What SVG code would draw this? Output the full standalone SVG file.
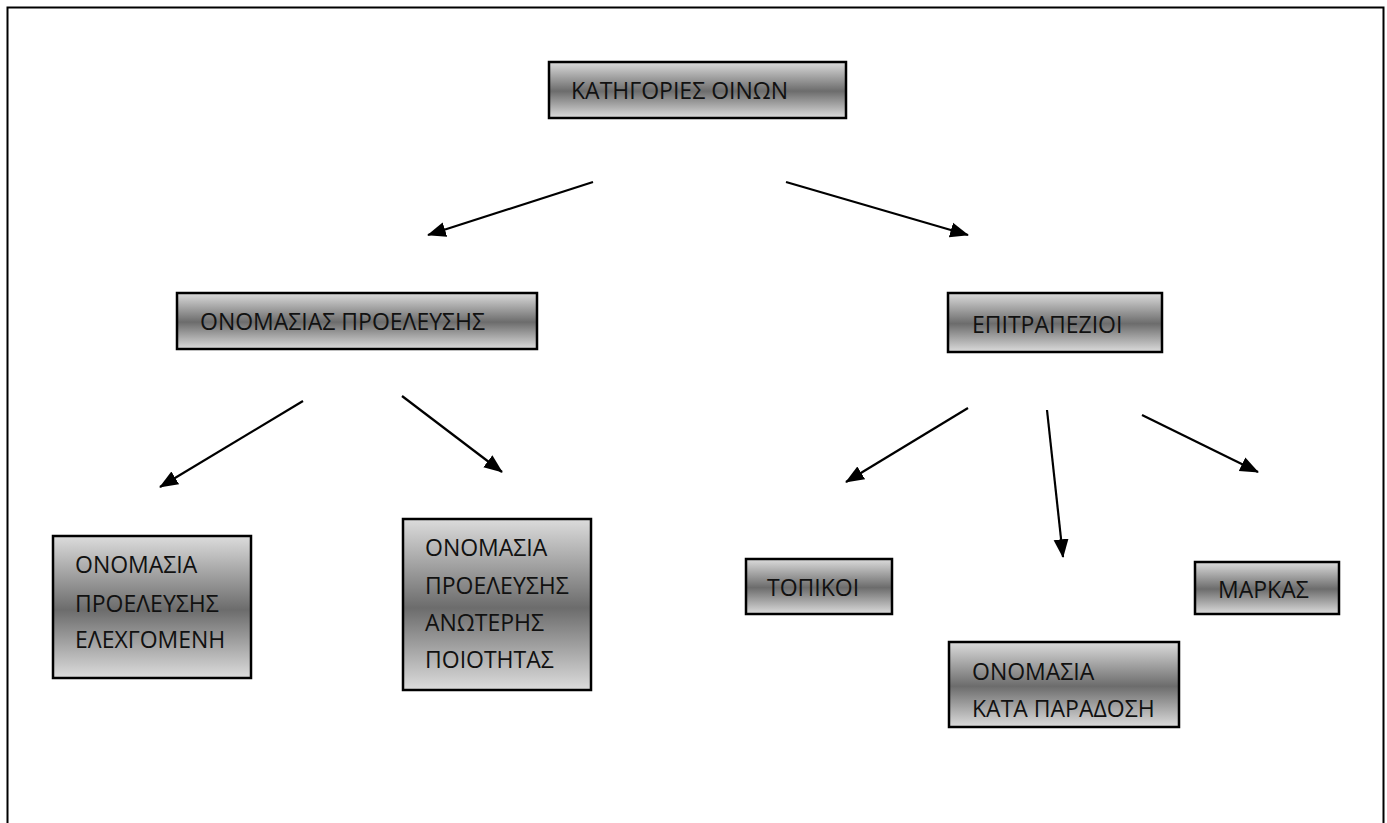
<svg xmlns="http://www.w3.org/2000/svg" width="1387" height="823" viewBox="0 0 1387 823">
<defs>
<linearGradient id="metal" x1="0" y1="0" x2="0" y2="1">
<stop offset="0" stop-color="#dcdcdc"/>
<stop offset="0.52" stop-color="#6c6c6c"/>
<stop offset="1" stop-color="#dcdcdc"/>
</linearGradient>
<marker id="arr" viewBox="0 0 10 8" refX="9.5" refY="4" markerWidth="8.5" markerHeight="7.5" markerUnits="strokeWidth" orient="auto">
<path d="M0,0 L10,4 L0,8 z" fill="#000"/>
</marker>
<style>
.box{fill:url(#metal);stroke:#000;stroke-width:2.5}
.t{font-family:"Open Sans","Noto Sans","Liberation Sans",sans-serif;font-size:23px;fill:#111}
.c{stroke:#000;stroke-width:2.2;fill:none;marker-end:url(#arr)}
</style>
</defs>
<rect width="1387" height="823" fill="#fff"/>
<path d="M7.5,823 V7.5 H1383.5 V823" fill="none" stroke="#000" stroke-width="2"/>
<g id="connectors">
<line class="c" x1="593" y1="182" x2="428" y2="235"/>
<line class="c" x1="786" y1="182" x2="968" y2="235"/>
<line class="c" x1="303" y1="401" x2="160" y2="487"/>
<line class="c" x1="402" y1="396" x2="502" y2="472"/>
<line class="c" x1="968" y1="408" x2="846" y2="482"/>
<line class="c" x1="1047" y1="410" x2="1063" y2="557"/>
<line class="c" x1="1142" y1="415" x2="1258" y2="472"/>
</g>
<g id="n-root"><rect class="box" x="549" y="62" width="297" height="56"/><text class="t" x="571" y="98.5">ΚΑΤΗΓΟΡΙΕΣ ΟΙΝΩΝ</text></g>
<g id="n-onomasias"><rect class="box" x="177" y="293" width="360" height="56"/><text class="t" x="200" y="330">ΟΝΟΜΑΣΙΑΣ ΠΡΟΕΛΕΥΣΗΣ</text></g>
<g id="n-epitrapezioi"><rect class="box" x="948" y="293" width="214" height="59"/><text class="t" x="972" y="333">ΕΠΙΤΡΑΠΕΖΙΟΙ</text></g>
<g id="n-ope"><rect class="box" x="53" y="536" width="198" height="142"/><text class="t" x="75" y="573">ΟΝΟΜΑΣΙΑ</text><text class="t" x="75" y="612">ΠΡΟΕΛΕΥΣΗΣ</text><text class="t" x="75" y="648">ΕΛΕΧΓΟΜΕΝΗ</text></g>
<g id="n-opap"><rect class="box" x="403" y="519" width="188" height="171"/><text class="t" x="425" y="556">ΟΝΟΜΑΣΙΑ</text><text class="t" x="425" y="594">ΠΡΟΕΛΕΥΣΗΣ</text><text class="t" x="425" y="631">ΑΝΩΤΕΡΗΣ</text><text class="t" x="425" y="668">ΠΟΙΟΤΗΤΑΣ</text></g>
<g id="n-topikoi"><rect class="box" x="746" y="559" width="146" height="55"/><text class="t" x="767" y="596">ΤΟΠΙΚΟΙ</text></g>
<g id="n-markas"><rect class="box" x="1195" y="562" width="144" height="52"/><text class="t" x="1218" y="598">ΜΑΡΚΑΣ</text></g>
<g id="n-paradosi"><rect class="box" x="949" y="642" width="230" height="85"/><text class="t" x="972" y="680">ΟΝΟΜΑΣΙΑ</text><text class="t" x="972" y="717">ΚΑΤΑ ΠΑΡΑΔΟΣΗ</text></g>
</svg>
